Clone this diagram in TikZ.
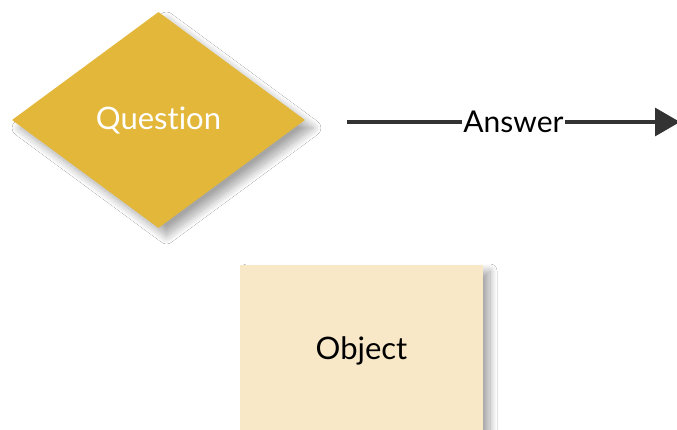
\documentclass[tikz,border=0pt]{standalone}
\usepackage{fontspec}
\setmainfont[Ligatures=NoCommon]{Lato}
\usetikzlibrary{shapes.geometric,shadows.blur,arrows.meta}
\definecolor{gold}{HTML}{E2B73A}
\definecolor{cream}{HTML}{F9E8C8}
\definecolor{ink}{HTML}{333333}
\tikzset{
  decision/.style={diamond, fill=gold, draw=none, inner sep=0pt, minimum width=293pt, minimum height=216pt, aspect=1.356,
    text=white, font=\fontsize{31}{34}\selectfont,
    blur shadow={shadow xshift=8pt, shadow yshift=-8pt, shadow blur steps=14, shadow blur radius=8pt, shadow opacity=35}},
  objbox/.style={rectangle, fill=cream, draw=none, minimum width=243pt, minimum height=180pt, inner sep=0pt,
    text=black, font=\fontsize{31}{34}\selectfont,
    blur shadow={shadow xshift=7pt, shadow yshift=-6pt, shadow blur steps=14, shadow blur radius=7pt, shadow opacity=35}},
  conn/.style={draw=ink, line width=3.2pt, -{Triangle[length=25pt,width=28pt]}},
  lbl/.style={fill=white, inner sep=1pt, text=black, font=\fontsize{30}{33}\selectfont}
}
\begin{document}
\begin{tikzpicture}[x=1pt,y=-1pt]
\useasboundingbox[clip] (0,0) rectangle (677,430);
\fill[white] (0,0) rectangle (677,430);
\node[decision] (q) at (158.5,120) {\raisebox{-2pt}{Question}};
\node[objbox] (obj) at (361.5,355) {\raisebox{13pt}{Object}};
\coordinate (a1) at (347,122);
\coordinate (a2) at (680,122);
\draw[conn] (a1) -- node[lbl] (ans) {Answer} (a2);
\end{tikzpicture}
\end{document}
